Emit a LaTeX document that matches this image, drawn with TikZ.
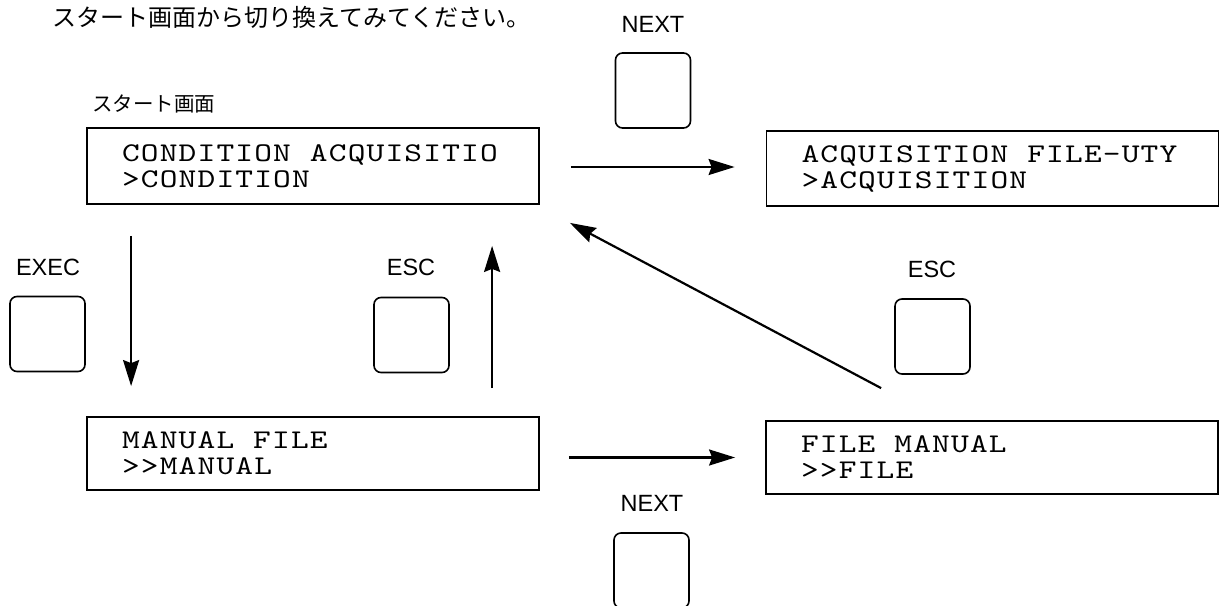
\documentclass[tikz,border=0pt]{standalone}
\usepackage{fontspec}
\setmainfont{Liberation Sans}
\newfontfamily\jpfont{Noto Sans CJK JP}
\newfontfamily\lcdfont{lmmono10-regular.otf}[FakeStretch=1.25,LetterSpace=4.4]
\usetikzlibrary{arrows.meta,calc}

% one empty character cell of the screen font
\newcommand\blank{\hspace*{19pt}}

\tikzset{
  lcdbox/.style={draw, line width=1.8pt, rectangle, inner xsep=0pt, inner ysep=0pt,
    minimum width=452pt, text width=382pt, align=left,
    font=\lcdfont\fontsize{27}{26}\selectfont},
  keybtn/.style={draw, line width=1.6pt, rounded corners=7pt, minimum width=75pt,
    minimum height=75pt, inner sep=0pt},
  keylabel/.style={inner sep=0pt, font=\fontsize{23.5}{26}\selectfont},
  arr/.style={line width=2.2pt, -{Stealth[length=26pt,width=16pt,inset=3pt]}},
}

\begin{document}
\begin{tikzpicture}[x=1pt,y=-1pt]
\useasboundingbox (0,0) rectangle (1222,605);
\clip (0,0) rectangle (1222,605);

% headings
\node[anchor=west, inner sep=0pt, font=\jpfont\fontsize{24}{26}\selectfont] (title) at (52,17)
  {スタート画面から切り換えてみてください。};
\node[anchor=west, inner sep=0pt, font=\jpfont\fontsize{20.5}{24}\selectfont] (startlbl) at (92,104)
  {スタート画面};

% display screens
\node[lcdbox, minimum height=76pt] (cond) at (313,166)
  {CONDITION\blank ACQUISITIO\\>CONDITION};
\node[lcdbox, minimum height=75pt] (acq) at (992.5,168.5)
  {ACQUISITION\blank FILE-UTY\\>ACQUISITION};
\node[lcdbox, minimum height=73pt] (manual) at (313,453.5)
  {MANUAL\blank FILE\\>>MANUAL};
\node[lcdbox, minimum height=73pt] (file) at (992,457.5)
  {FILE\blank MANUAL\\>>FILE};

% keys and their labels
\node[keylabel] (nextTopLbl) at (653,24) {NEXT};
\node[keybtn] (nextTop) at (653,90.5) {};
\node[keylabel] (execLbl) at (48,267) {EXEC};
\node[keybtn] (exec) at (47.5,334) {};
\node[keylabel] (escLeftLbl) at (411,267) {ESC};
\node[keybtn] (escLeft) at (411.5,335) {};
\node[keylabel] (escRightLbl) at (932,269) {ESC};
\node[keybtn] (escRight) at (932.5,336.5) {};
\node[keylabel] (nextBotLbl) at (652,503) {NEXT};
\node[keybtn] (nextBot) at (651.5,570.5) {};

% transitions
\draw[arr] ($(cond.east)+(31,1)$) -- ($(acq.west)+(-31,-1.5)$);
\draw[arr] ($(manual.east |- file.west)+(29,0)$) -- ($(file.west)+(-30,0)$);
\draw[arr] ($(cond.south west)+(45,31)$) -- ($(manual.north west)+(45,-30)$);
\draw[arr] ($(manual.north west)+(406,-28)$) -- ($(cond.south west)+(406,41)$);
\draw[arr] ($(file.north west)+(116,-32)$) -- ($(cond.south east)+(30,18)$);
\end{tikzpicture}
\end{document}
